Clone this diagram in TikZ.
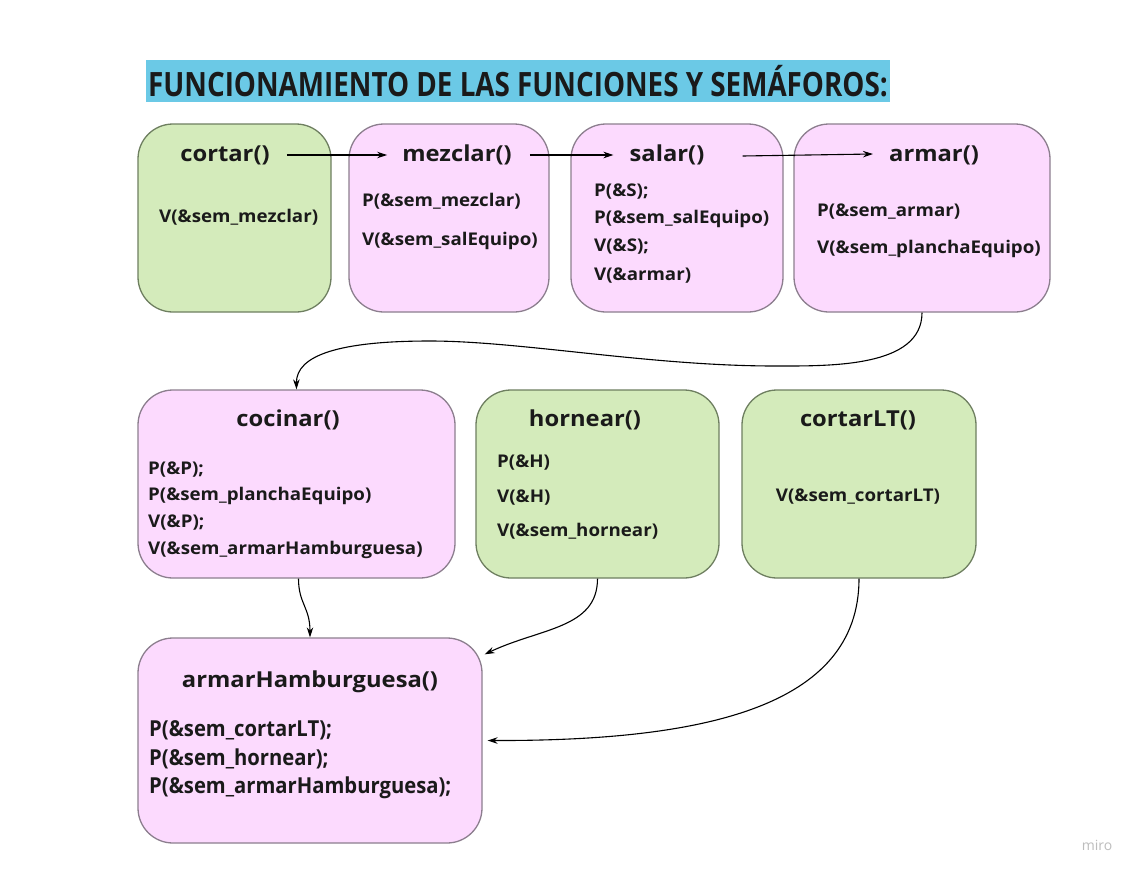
\documentclass[tikz,border=0pt]{standalone}
\usepackage{fontspec}
\setmainfont{Open Sans}
\newfontfamily\condfont[FakeStretch=0.92]{Open Sans}
\newfontfamily\titlefont[FakeStretch=0.83]{Open Sans}
\newfontfamily\headfont[FakeStretch=1.08]{Open Sans}
\newfontfamily\bodyfont[FakeStretch=1.07]{Open Sans}
\usetikzlibrary{arrows.meta}
\definecolor{gfill}{HTML}{D4EBBB}
\definecolor{gdraw}{HTML}{6E7F60}
\definecolor{pfill}{HTML}{FCDAFE}
\definecolor{pdraw}{HTML}{8C7E8E}
\definecolor{tblue}{HTML}{6BC9E6}
\definecolor{txt}{HTML}{1A1A1A}
\definecolor{mirogray}{HTML}{BDBDBD}
\begin{document}
\begin{tikzpicture}[x=1pt,y=-1pt,
 box/.style={rounded corners=35pt, line width=1.3pt, inner sep=0pt},
 gbox/.style={box, fill=gfill, draw=gdraw},
 pbox/.style={box, fill=pfill, draw=pdraw},
 head/.style={font=\headfont\fontsize{22}{26}\selectfont\bfseries, text=txt, inner sep=0pt},
 body/.style={font=\bodyfont\fontsize{17.5}{20}\selectfont\bfseries, text=txt, anchor=west, inner sep=0pt},
 cbody/.style={font=\condfont\fontsize{22}{26}\selectfont\bfseries, text=txt, anchor=west, inner sep=0pt},
 conn/.style={line width=1.1pt, -{Stealth[length=10pt,width=6.5pt]}}]
\useasboundingbox (0,0) rectangle (1141,876);
\fill[white] (0,0) rectangle (1141,876);

% title
\node[fill=tblue, minimum width=744pt, minimum height=42pt, inner sep=0pt,
      font=\titlefont\fontsize{33.5}{36}\selectfont\bfseries, text=txt] (title) at (518,81)
  {FUNCIONAMIENTO DE LAS FUNCIONES Y SEMÁFOROS:};

% boxes
\node[gbox, minimum width=193pt, minimum height=188pt] (cortar) at (234.5,218) {};
\node[pbox, minimum width=200pt, minimum height=188pt] (mezclar) at (449,218) {};
\node[pbox, minimum width=212pt, minimum height=188pt] (salar) at (677,218) {};
\node[pbox, minimum width=256pt, minimum height=188pt] (armar) at (922,218) {};
\node[pbox, minimum width=317pt, minimum height=188pt] (cocinar) at (296.5,484) {};
\node[gbox, minimum width=243pt, minimum height=188pt] (hornear) at (597.5,484) {};
\node[gbox, minimum width=234pt, minimum height=188pt] (cortarlt) at (859,484) {};
\node[pbox, minimum width=344pt, minimum height=205pt] (armarh) at (310,740.5) {};

% headings
\node[head] (hcortar) at (225,155) {cortar()};
\node[head] (hmezclar) at (457,155) {mezclar()};
\node[head] (hsalar) at (667,155) {salar()};
\node[head] (harmar) at (934,155) {armar()};
\node[head] (hcocinar) at (288,420) {cocinar()};
\node[head] (hhornear) at (585,420) {hornear()};
\node[head] (hcortarlt) at (858,420) {cortarLT()};
\node[head] (harmarh) at (310,682) {armarHamburguesa()};

% bodies
\node[body] (b1a) at (159,217) {V(\&sem\_mezclar)};
\node[body] (b2a) at (362,201) {P(\&sem\_mezclar)};
\node[body] (b2b) at (362,241) {V(\&sem\_salEquipo)};
\node[body] (b3a) at (594,192) {P(\&S);};
\node[body] (b3b) at (594,219) {P(\&sem\_salEquipo)};
\node[body] (b3c) at (594,247) {V(\&S);};
\node[body] (b3d) at (594,276) {V(\&armar)};
\node[body] (b4a) at (817,212) {P(\&sem\_armar)};
\node[body] (b4b) at (817,249) {V(\&sem\_planchaEquipo)};
\node[body] (b5a) at (148,470) {P(\&P);};
\node[body] (b5b) at (148,496) {P(\&sem\_planchaEquipo)};
\node[body] (b5c) at (148,523) {V(\&P);};
\node[body] (b5d) at (148,550) {V(\&sem\_armarHamburguesa)};
\node[body] (b6a) at (497,463) {P(\&H)};
\node[body] (b6b) at (497,498) {V(\&H)};
\node[body] (b6c) at (497,531) {V(\&sem\_hornear)};
\node[body, anchor=center] (b7a) at (858,497) {V(\&sem\_cortarLT)};
\node[cbody] (b8a) at (149,730) {P(\&sem\_cortarLT);};
\node[cbody] (b8b) at (149,759) {P(\&sem\_hornear);};
\node[cbody] (b8c) at (149,788) {P(\&sem\_armarHamburguesa);};

% connectors
\draw[conn] ([xshift=17pt]hcortar.east) -- ([xshift=-15pt]hmezclar.west);
\draw[conn] ([xshift=18pt]hmezclar.east) -- ([xshift=-16pt]hsalar.west);
\draw[conn] ([xshift=38pt,yshift=-1pt]hsalar.east) -- ([xshift=-16pt,yshift=1pt]harmar.west);
\draw[conn] (armar.south) .. controls +(0,55) and (830,366) .. (775,366)
   .. controls (650,366) and (520,341) .. (430,341)
   .. controls (340,341) and (296,355) .. (cocinar.north);
\draw[conn] ([xshift=2pt]cocinar.south) .. controls +(0,25) and +(0,-30) .. (armarh.north);
\draw[conn] (hornear.south) .. controls +(0,50) and (540,628) .. ([xshift=2pt,yshift=-17pt]armarh.north east);
\draw[conn] (cortarlt.south) .. controls +(0,130) and (700,741) .. ([xshift=5pt]armarh.east);

\node[font=\fontsize{14}{16}\selectfont, text=mirogray, inner sep=0pt] (miro) at (1097,845) {miro};
\end{tikzpicture}
\end{document}
